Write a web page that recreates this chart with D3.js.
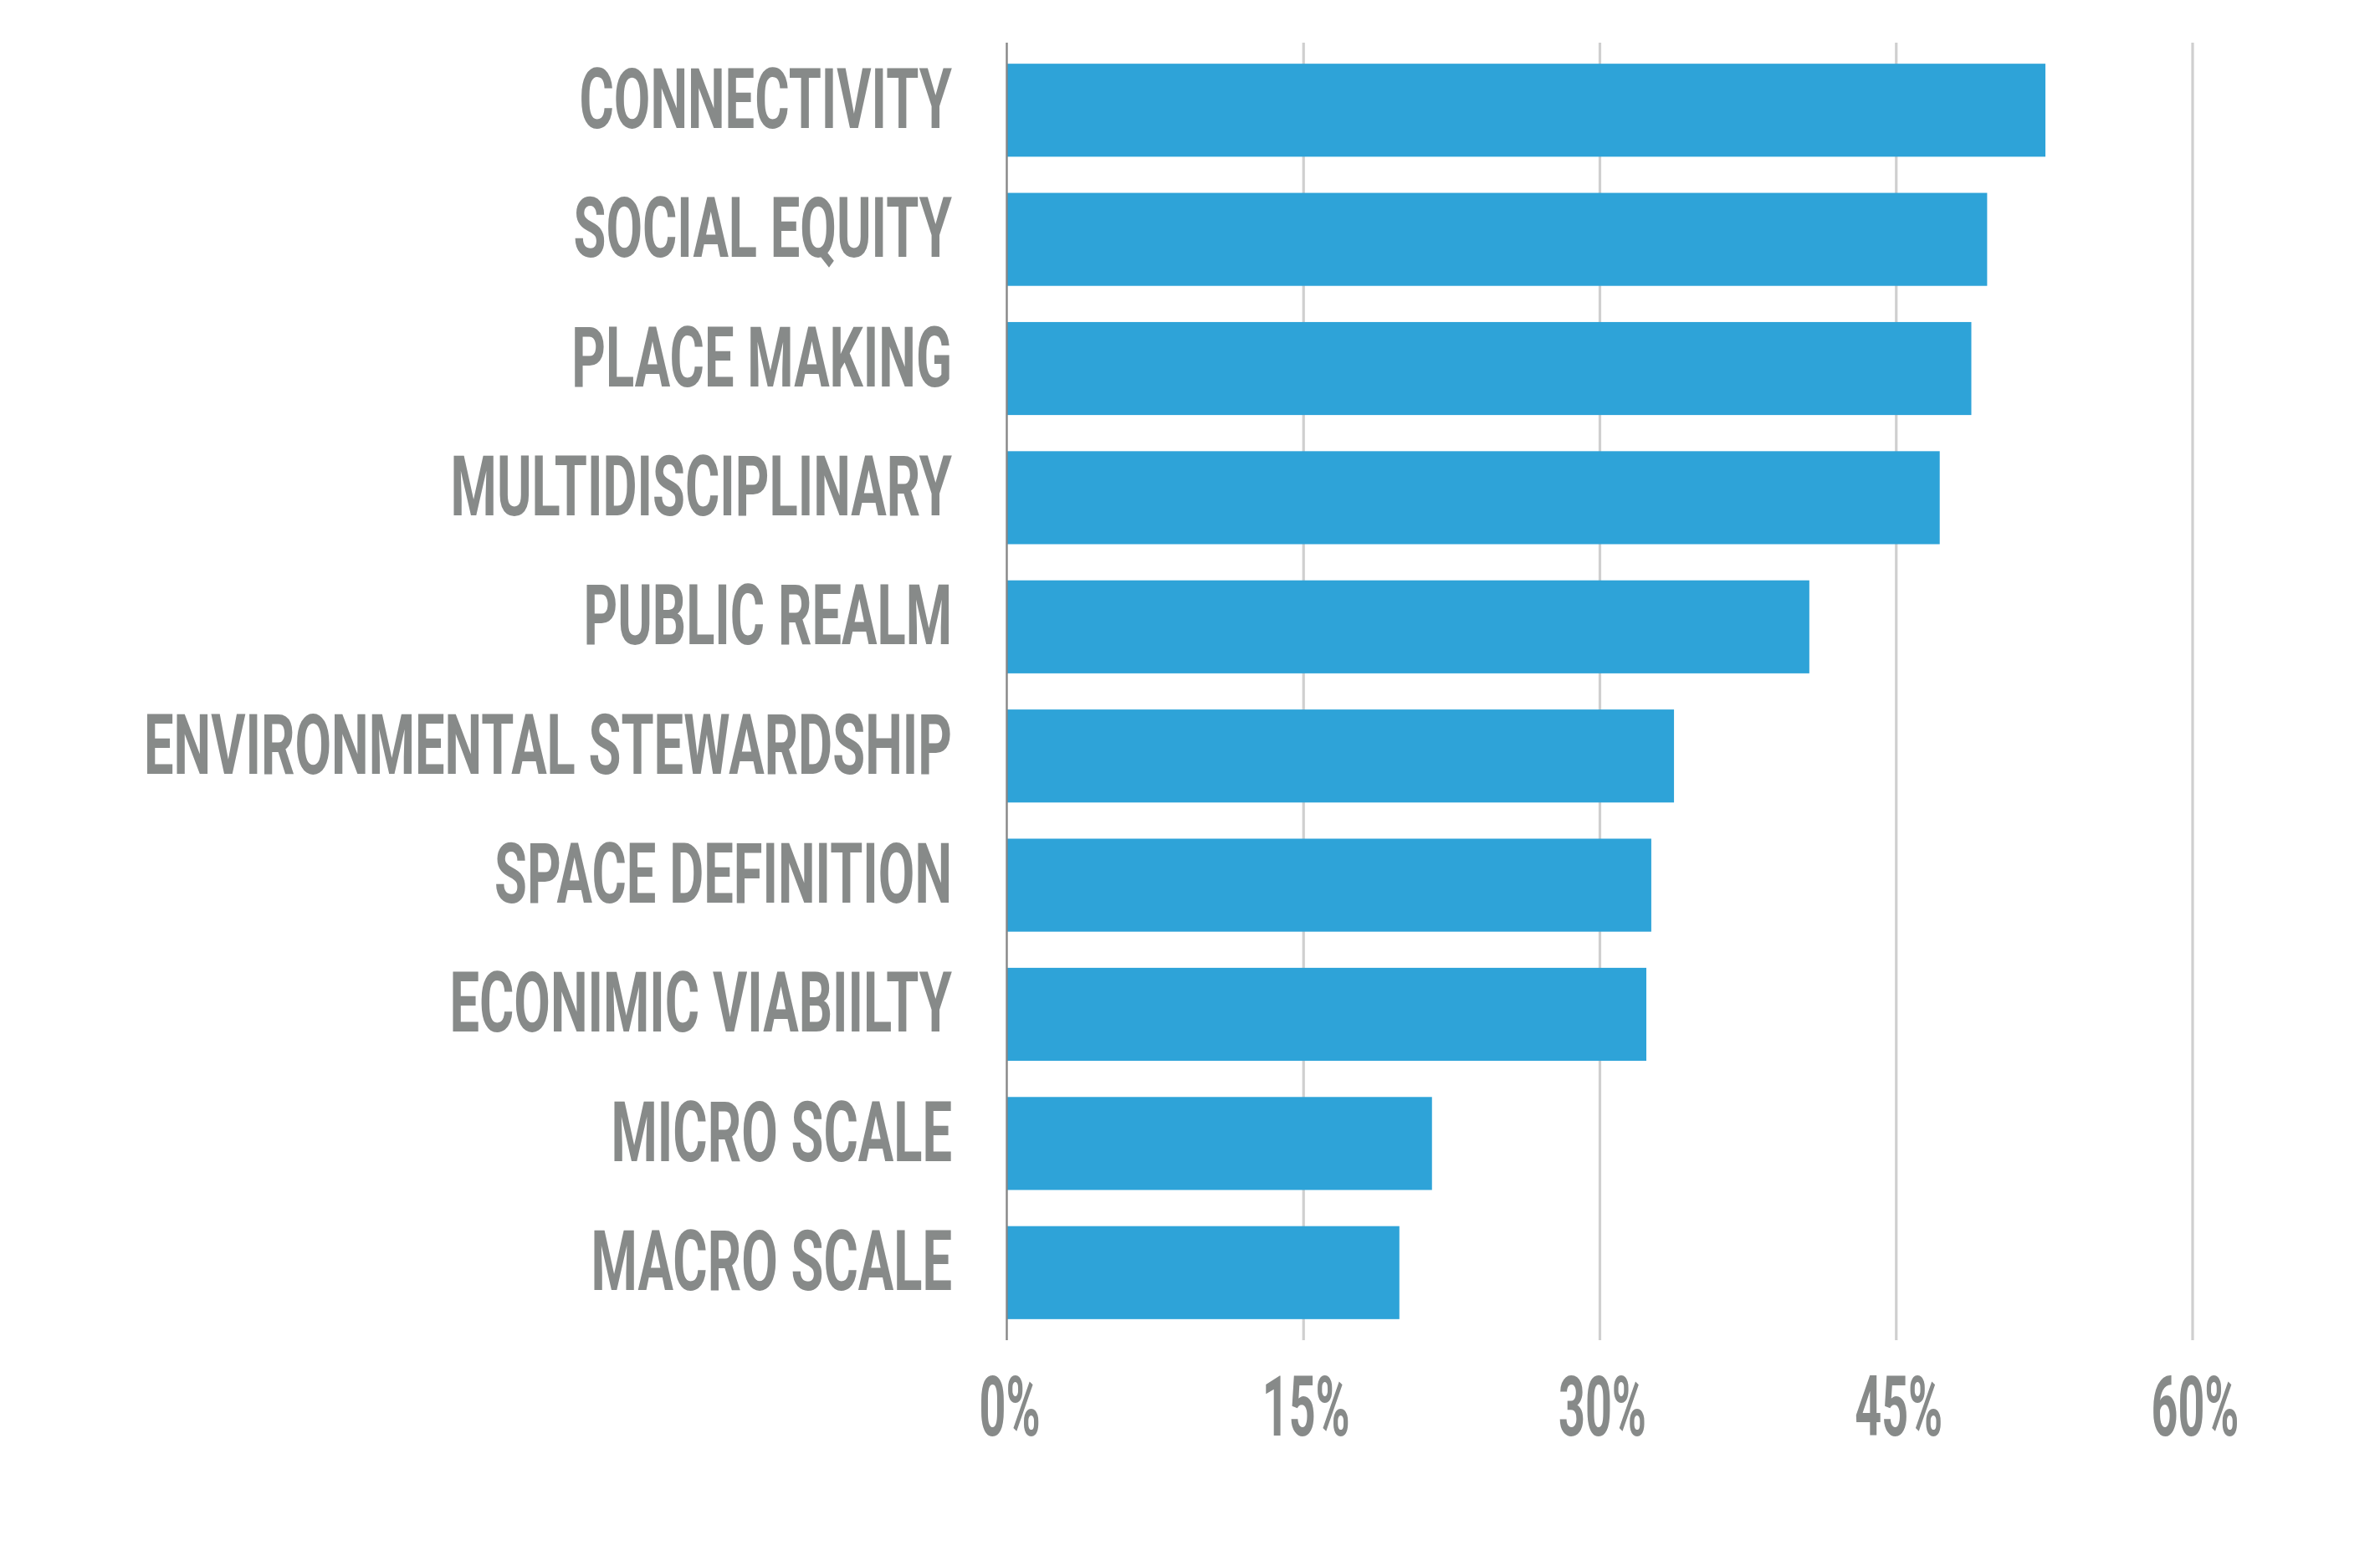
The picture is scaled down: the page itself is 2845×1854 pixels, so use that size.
<!DOCTYPE html>
<html>
<head>
<meta charset="utf-8">
<script src="https://cdn.jsdelivr.net/npm/d3@7"></script>
<style>
  html, body { margin: 0; padding: 0; background: #ffffff; }
  svg { display: block; }
</style>
</head>
<body>
<script>
// ---- data ----
const categories = [
  "CONNECTIVITY",
  "SOCIAL EQUITY",
  "PLACE MAKING",
  "MULTIDISCIPLINARY",
  "PUBLIC REALM",
  "ENVIRONMENTAL STEWARDSHIP",
  "SPACE DEFINITION",
  "ECONIMIC VIABIILTY",
  "MICRO SCALE",
  "MACRO SCALE"
];
const values = [52.55, 49.6, 48.8, 47.2, 40.6, 33.75, 32.6, 32.35, 21.5, 19.85];
const tickValues = [0, 15, 30, 45, 60];
const tickLabels = ["0%", "15%", "30%", "45%", "60%"];

// ---- layout ----
const W = 2845, H = 1854;
const plotLeft = 1204, plotRight = 2621, plotTop = 51, plotBottom = 1602;
const labelRight = 1138;
const barColor = "#2EA3D8";
const textColor = "#878A89";
const fontFamily = "Roboto, 'DejaVu Sans', sans-serif";
const fontSize = 101;
const fontWeight = 700;

const svg = d3.select("body").append("svg")
  .attr("width", W).attr("height", H)
  .attr("viewBox", `0 0 ${W} ${H}`);

svg.append("rect").attr("width", W).attr("height", H).attr("fill", "#ffffff");

const x = d3.scaleLinear().domain([0, 60]).range([plotLeft, plotRight]);
const y = d3.scaleBand().domain(categories).range([plotTop, plotBottom])
  .paddingInner(0.28).paddingOuter(0.163);

// gridlines (excluding 0, drawn as axis line)
svg.append("g").selectAll("line")
  .data(tickValues.filter(t => t !== 0))
  .join("line")
  .attr("x1", d => x(d)).attr("x2", d => x(d))
  .attr("y1", plotTop).attr("y2", plotBottom)
  .attr("stroke", "#CFCFCF").attr("stroke-width", 3.2);

// bars
const data = categories.map((c, i) => ({ c, v: values[i] }));
svg.append("g").selectAll("rect")
  .data(data)
  .join("rect")
  .attr("x", x(0))
  .attr("y", d => y(d.c))
  .attr("width", d => x(d.v) - x(0))
  .attr("height", y.bandwidth())
  .attr("fill", barColor);

// axis line at 0
svg.append("line")
  .attr("x1", x(0) - 0.5).attr("x2", x(0) - 0.5)
  .attr("y1", plotTop).attr("y2", plotBottom)
  .attr("stroke", "#868686").attr("stroke-width", 2.4);

// measure natural width to derive condensed scale
const probe = svg.append("text")
  .attr("font-family", fontFamily).attr("font-size", fontSize).attr("font-weight", fontWeight)
  .text("ENVIRONMENTAL STEWARDSHIP");
const natural = probe.node().getComputedTextLength();
probe.remove();
const sx = 966 / natural;

// category labels
svg.append("g").selectAll("text")
  .data(categories)
  .join("text")
  .attr("transform", d => `translate(${labelRight},${y(d) + y.bandwidth() / 2 + 21}) scale(${sx},1)`)
  .attr("text-anchor", "end")
  .attr("font-family", fontFamily)
  .attr("font-size", fontSize)
  .attr("font-weight", fontWeight)
  .attr("fill", textColor)
  .text(d => d);

// tick labels
svg.append("g").selectAll("text")
  .data(tickValues)
  .join("text")
  .attr("transform", (d) => `translate(${x(d) + 3},1716) scale(${sx * 0.88},1)`)
  .attr("text-anchor", "middle")
  .attr("font-family", fontFamily)
  .attr("font-size", fontSize)
  .attr("font-weight", fontWeight)
  .attr("fill", textColor)
  .text((d, i) => tickLabels[i]);
</script>
</body>
</html>
